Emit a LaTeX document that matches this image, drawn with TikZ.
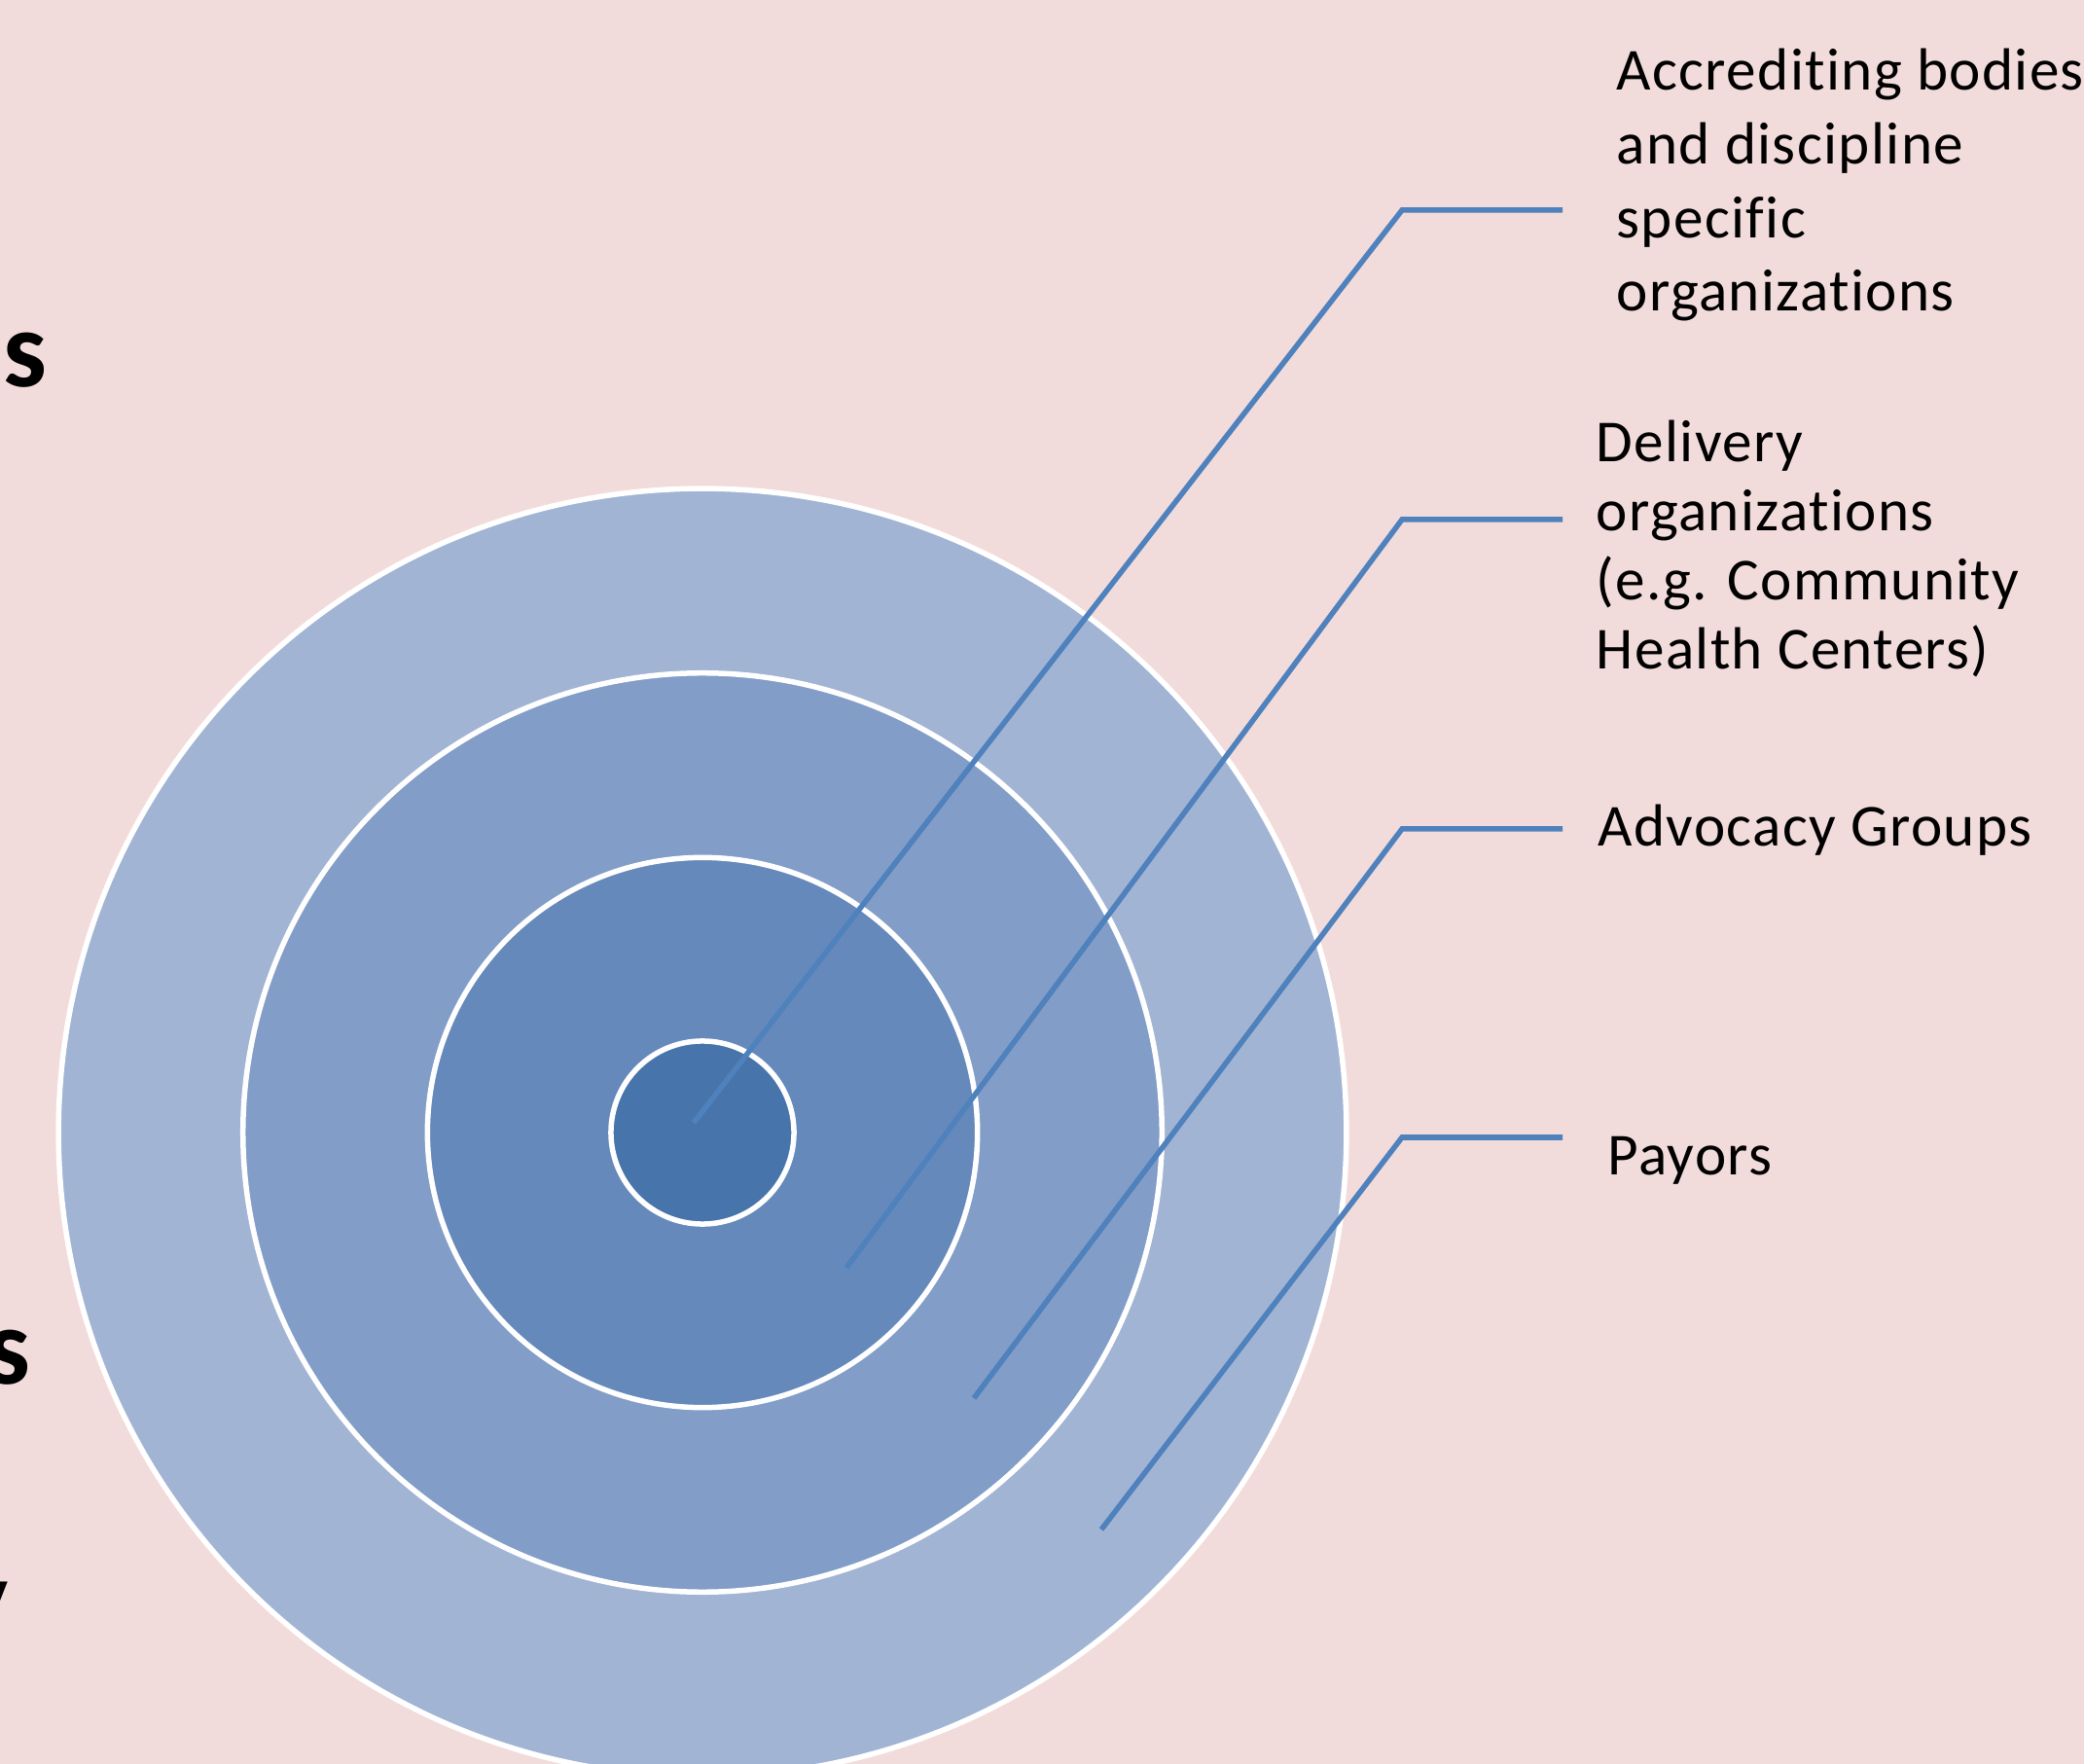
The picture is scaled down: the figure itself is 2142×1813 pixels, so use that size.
\documentclass[tikz,border=0pt]{standalone}
\usepackage{fontspec}
\setmainfont{Carlito}[Ligatures=NoCommon]
\newfontfamily\labelfont{Carlito}[Ligatures=NoCommon, LetterSpace=2.2]
\definecolor{bgpink}{HTML}{F2DCDB}
\definecolor{ringA}{HTML}{A2B4D4}
\definecolor{ringB}{HTML}{829DC7}
\definecolor{ringC}{HTML}{6689BB}
\definecolor{ringD}{HTML}{4774AA}
\definecolor{connblue}{HTML}{4F81BD}
\begin{document}
\begin{tikzpicture}[x=0.01cm,y=-0.01cm,
  ring/.style={circle, draw=white, line width=0.055cm, inner sep=0pt, outer sep=0pt},
  conn/.style={draw=connblue, line width=0.055cm},
  lbl/.style={anchor=base west, inner sep=0pt, font=\labelfont\fontsize{17.4}{20}\selectfont},
  bigletter/.style={anchor=base west, inner sep=0pt, font=\fontsize{32}{38}\selectfont\bfseries}]
\useasboundingbox (0,0) rectangle (2142,1813);
\clip (0,0) rectangle (2142,1813);
\fill[bgpink] (0,0) rectangle (2142,1813);

% partial letters at the left edge
\node[bigletter] (s1) at (3,398) {s};
\node[bigletter] (s2) at (-14,1422) {s};
\node[bigletter] (y1) at (-45,1680) {y};

% concentric circles
\node[ring, fill=ringA, minimum size=13.23cm] (outer) at (722,1164) {};
\node[ring, fill=ringB, minimum size=9.44cm] (second) at (722,1164) {};
\node[ring, fill=ringC, minimum size=5.65cm] (third) at (722,1164) {};
\node[ring, fill=ringD, minimum size=1.88cm] (inner) at (722,1164) {};

% connector points
\coordinate (a1) at (713,1154);
\coordinate (b1) at (1441,216);
\coordinate (c1) at (1606,216);
\coordinate (a2) at (870,1303);
\coordinate (b2) at (1441,534);
\coordinate (c2) at (1606,534);
\coordinate (a3) at (1001,1437);
\coordinate (b3) at (1441,852);
\coordinate (c3) at (1606,852);
\coordinate (a4) at (1132,1572);
\coordinate (b4) at (1441,1169);
\coordinate (c4) at (1606,1169);

\draw[conn] (a1) -- (b1) -- (c1);
\draw[conn] (a2) -- (b2) -- (c2);
\draw[conn] (a3) -- (b3) -- (c3);
\draw[conn] (a4) -- (b4) -- (c4);

% labels
\node[lbl] (accr) at (1661,93) {\parbox[t]{9cm}{\labelfont\fontsize{17.4}{21.5}\selectfont\raggedright Accrediting bodies\\ and discipline\\ specific\\ organizations}};
\node[lbl] (deliv) at (1640,475) {\parbox[t]{9cm}{\labelfont\fontsize{17.4}{20.1}\selectfont\raggedright Delivery\\ organizations\\ (e.g. Community\\ Health Centers)}};
\node[lbl] (advo) at (1642,870) {Advocacy Groups};
\node[lbl] (payo) at (1652,1207) {Payors};
\end{tikzpicture}
\end{document}
